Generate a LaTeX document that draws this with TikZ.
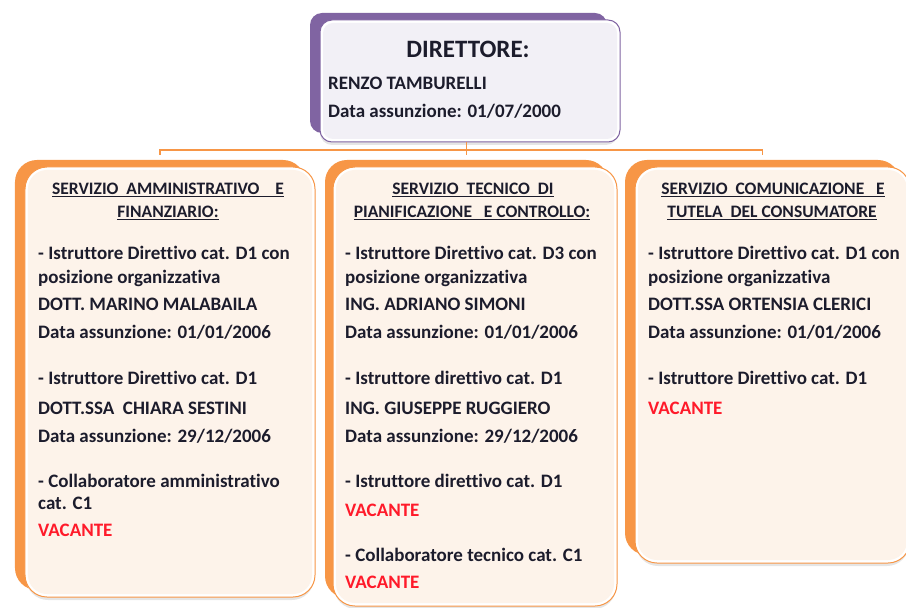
\documentclass[tikz,border=0pt]{standalone}
\usepackage{fontspec}
\setmainfont{Carlito}[Ligatures=NoCommon]
\usetikzlibrary{positioning}

\definecolor{servorange}{HTML}{F79646}
\definecolor{cream}{HTML}{FDF3EA}
\definecolor{dirpurple}{HTML}{8064A2}
\definecolor{lavender}{HTML}{F2F0F6}
\definecolor{ink}{HTML}{1C1C2C}
\definecolor{vacred}{HTML}{FF1A2A}

\newcommand{\bodyfont}{\fontsize{19bp}{22bp}\selectfont\bfseries}
\newcommand{\headfont}{\fontsize{17.5bp}{22bp}\selectfont\bfseries}

\tikzset{
  backbox/.style={rectangle,rounded corners=22bp,fill=servorange,draw=none,inner sep=0,outer sep=0},
  shadebox/.style={rectangle,rounded corners=22bp,fill=black!10,draw=none,inner sep=0,outer sep=0},
  edgebox/.style={rectangle,rounded corners=22bp,fill=white,draw=servorange,line width=1bp,inner sep=0,outer sep=0},
  fillbox/.style={rectangle,rounded corners=19bp,fill=cream,draw=none,inner sep=0,outer sep=0},
  link/.style={servorange,line width=1.5bp},
  txt/.style={anchor=base west,inner sep=0,font=\bodyfont,text=ink},
  head/.style={anchor=base,inner sep=0,font=\headfont,text=ink},
  vac/.style={txt,text=vacred}
}

\begin{document}
\begin{tikzpicture}[x=1bp,y=-1bp]
\useasboundingbox (0,0) rectangle (906,608);

% direttore
\node[backbox,fill=dirpurple,rounded corners=12bp,minimum width=297bp,minimum height=120bp] (dirback) at (458.5,73) {};
\node[shadebox,rounded corners=12bp,minimum width=298bp,minimum height=122bp] (dirshade) at (469,84) {};
\node[edgebox,draw=dirpurple,rounded corners=12bp,minimum width=300bp,minimum height=122bp] (dir) at (470,81) {};
\node[fillbox,fill=lavender,rounded corners=10bp,minimum width=294bp,minimum height=116bp] (dirin) at (dir.center) {};

% servizi
\node[backbox,minimum width=290bp,minimum height=430bp] (ammback) at (160,375) {};
\node[shadebox,minimum width=288bp,minimum height=430bp] (ammshade) at (170,385) {};
\node[edgebox,minimum width=290bp,minimum height=430bp] (amm) at (170,382) {};
\node[fillbox,minimum width=284bp,minimum height=424bp] (ammin) at (amm.center) {};

\node[backbox,minimum width=283bp,minimum height=438bp] (tecback) at (466.5,379) {};
\node[shadebox,minimum width=282bp,minimum height=439bp] (tecshade) at (475,389.5) {};
\node[edgebox,minimum width=284bp,minimum height=439bp] (tec) at (475,386.5) {};
\node[fillbox,minimum width=278bp,minimum height=433bp] (tecin) at (tec.center) {};

\node[backbox,minimum width=275bp,minimum height=395bp] (comback) at (762.5,357.5) {};
\node[shadebox,minimum width=273bp,minimum height=396bp] (comshade) at (772.5,368) {};
\node[edgebox,minimum width=275bp,minimum height=396bp] (com) at (772.5,365) {};
\node[fillbox,minimum width=269bp,minimum height=390bp] (comin) at (com.center) {};

% collegamenti
\coordinate (bus) at ([yshift=10bp]tecback.north);
\draw[link] (dir.south -| bus) -- ([yshift=5bp]tecback.north);
\draw[link] ([yshift=5bp]ammback.north) |- (bus) -| ([yshift=5bp]comback.north);

% testi direttore
\node[head,font=\fontsize{25bp}{28bp}\selectfont\bfseries] (dir0) at (468,58) {DIRETTORE:};
\node[txt] (dir1) at (328,90) {RENZO TAMBURELLI};
\node[txt] (dir2) at (328,118) {Data assunzione: 01/07/2000};

% testi amministrativo
\node[head] (ammh1) at (168,195) {\underline{SERVIZIO\ \ AMMINISTRATIVO\ \ \ \ E}};
\node[head] (ammh2) at (168,218) {\underline{FINANZIARIO:}};
\node[txt] (amm1) at (38,260) {- Istruttore Direttivo cat. D1 con};
\node[txt] (amm2) at (38,283) {posizione organizzativa};
\node[txt] (amm3) at (38,310) {DOTT.\ MARINO\ MALABAILA};
\node[txt] (amm4) at (38,338) {Data assunzione: 01/01/2006};
\node[txt] (amm5) at (38,384) {- Istruttore Direttivo cat. D1};
\node[txt] (amm6) at (38,414) {DOTT.SSA\ \ CHIARA SESTINI};
\node[txt] (amm7) at (38,442) {Data assunzione: 29/12/2006};
\node[txt] (amm8) at (38,487) {- Collaboratore\ amministrativo};
\node[txt] (amm9) at (38,509) {cat. C1};
\node[vac] (amm10) at (38,536) {VACANTE};

% testi tecnico
\node[head] (tech1) at (473,195) {\underline{SERVIZIO\ \ TECNICO\ \ DI}};
\node[head] (tech2) at (472,218) {\underline{PIANIFICAZIONE\ \ \ E\ CONTROLLO:}};
\node[txt] (tec1) at (345,260) {- Istruttore Direttivo cat. D3 con};
\node[txt] (tec2) at (345,283) {posizione organizzativa};
\node[txt] (tec3) at (345,310) {ING. ADRIANO\ SIMONI};
\node[txt] (tec4) at (345,338) {Data assunzione: 01/01/2006};
\node[txt] (tec5) at (345,384) {- Istruttore direttivo cat. D1};
\node[txt] (tec6) at (345,414) {ING. GIUSEPPE\ RUGGIERO};
\node[txt] (tec7) at (345,442) {Data assunzione: 29/12/2006};
\node[txt] (tec8) at (345,487) {- Istruttore direttivo cat. D1};
\node[vac] (tec9) at (345,516) {VACANTE};
\node[txt] (tec10) at (345,561) {- Collaboratore\ tecnico cat. C1};
\node[vac] (tec11) at (345,588) {VACANTE};

% testi comunicazione
\node[head] (comh1) at (773,195) {\underline{SERVIZIO\ \ COMUNICAZIONE\ \ \ E}};
\node[head] (comh2) at (772,218) {\underline{TUTELA\ \ DEL CONSUMATORE}};
\node[txt] (com1) at (648,260) {- Istruttore Direttivo cat. D1 con};
\node[txt] (com2) at (648,283) {posizione organizzativa};
\node[txt] (com3) at (648,310) {DOTT.SSA\ ORTENSIA\ CLERICI};
\node[txt] (com4) at (648,338) {Data assunzione: 01/01/2006};
\node[txt] (com5) at (648,384) {- Istruttore Direttivo\ cat. D1};
\node[vac] (com6) at (648,414) {VACANTE};

\end{tikzpicture}
\end{document}
